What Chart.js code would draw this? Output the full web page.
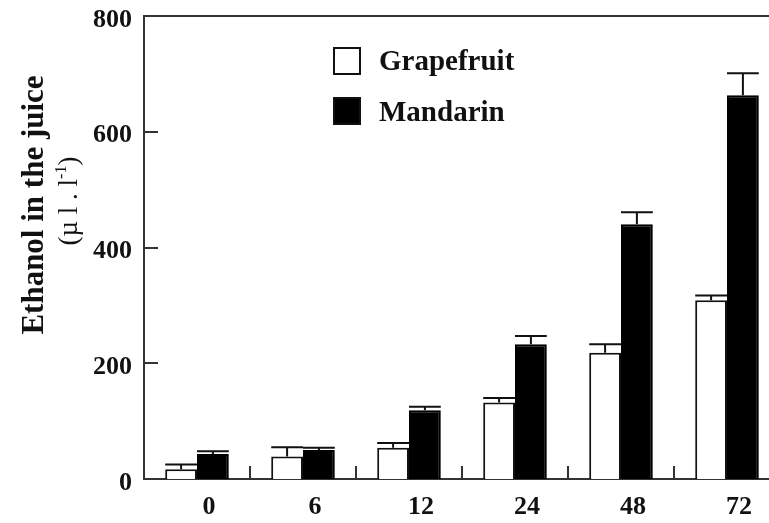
<!DOCTYPE html>
<html>
<head>
<meta charset="utf-8">
<title>Ethanol in the juice</title>
<script src="https://cdn.jsdelivr.net/npm/chart.js@4.4.1/dist/chart.umd.min.js"></script>
<style>
    html, body {
        margin: 0;
        padding: 0;
        background: #fff;
        overflow: hidden;
    }
    #wrap {
        width: 769px;
        height: 523px;
        overflow: hidden;
    }
</style>
</head>
<body>
<div id="wrap">
    <canvas id="ethanolChart" width="800" height="523"></canvas>
</div>
<script>
const hours = ['0', '6', '12', '24', '48', '72'];
const grapefruit = [17, 39, 54, 132, 218, 309];
const grapefruitErr = [8, 16, 8, 8, 15, 8];
const mandarin = [43, 50, 119, 233, 440, 663];
const mandarinErr = [5, 4, 6, 14, 21, 38];
const yTicks = [0, 200, 400, 600, 800];

const SERIF = '"Liberation Serif", "Times New Roman", serif';
const INK = '#111';
let ethanolChart = null;

// error bars: stem from bar top up to mean + err, cap as wide as the bar
const errorBarsPlugin = {
    id: 'errorBars',
    afterDatasetsDraw(chart) {
        const ctx = chart.ctx;
        const yScale = chart.scales.y;
        const errs = [grapefruitErr, mandarinErr];
        ctx.save();
        ctx.strokeStyle = INK;
        ctx.lineWidth = 2;
        chart.data.datasets.forEach((ds, di) => {
            const meta = chart.getDatasetMeta(di);
            meta.data.forEach((bar, i) => {
                const yErr = yScale.getPixelForValue(ds.data[i] + errs[di][i]);
                const half = bar.width / 2;
                ctx.beginPath();
                ctx.moveTo(bar.x, bar.y);
                ctx.lineTo(bar.x, yErr);
                ctx.moveTo(bar.x - half, yErr);
                ctx.lineTo(bar.x + half, yErr);
                ctx.stroke();
            });
        });
        ctx.restore();
    }
};

// inward tick marks on both axes, legend and the two-line y title
const decorPlugin = {
    id: 'decor',
    afterDraw(chart) {
        const ctx = chart.ctx;
        const area = chart.chartArea;
        const x = chart.scales.x;
        const y = chart.scales.y;

        ctx.save();
        ctx.strokeStyle = '#333';
        ctx.lineWidth = 2;
        ctx.beginPath();
        yTicks.slice(1, -1).forEach(v => {
            const py = Math.round(y.getPixelForValue(v));
            ctx.moveTo(area.left, py);
            ctx.lineTo(area.left + 14, py);
        });
        for (let i = 1; i < hours.length; i++) {
            const px = Math.round((x.getPixelForValue(i - 1) + x.getPixelForValue(i)) / 2);
            ctx.moveTo(px, area.bottom);
            ctx.lineTo(px, area.bottom - 13);
        }
        ctx.stroke();

        // legend
        const boxX = 333;
        const rows = [{ top: 47, base: 70 }, { top: 97, base: 121 }];
        chart.data.datasets.forEach((ds, di) => {
            const r = rows[di];
            ctx.fillStyle = ds.backgroundColor;
            ctx.fillRect(boxX, r.top, 28, 28);
            ctx.strokeStyle = INK;
            ctx.lineWidth = 2;
            ctx.strokeRect(boxX + 1, r.top + 1, 26, 26);
            ctx.fillStyle = INK;
            ctx.font = `bold 29px ${SERIF}`;
            ctx.textAlign = 'left';
            ctx.textBaseline = 'alphabetic';
            ctx.fillText(ds.label, 379, r.base);
        });

        // y axis title
        ctx.fillStyle = INK;
        ctx.textBaseline = 'alphabetic';
        ctx.save();
        ctx.translate(43, 205);
        ctx.rotate(-Math.PI / 2);
        ctx.textAlign = 'center';
        ctx.font = `bold 31px ${SERIF}`;
        ctx.fillText('Ethanol in the juice', 0, 0);
        ctx.restore();

        ctx.save();
        ctx.translate(77, 201);
        ctx.rotate(-Math.PI / 2);
        const parts = [
            { t: '(\u00b5 l . l', size: 27, rise: 0 },
            { t: '-1', size: 16, rise: 11 },
            { t: ')', size: 27, rise: 0 }
        ];
        let total = 0;
        parts.forEach(p => {
            ctx.font = `${p.size}px ${SERIF}`;
            p.w = ctx.measureText(p.t).width;
            total += p.w;
        });
        let cx = -total / 2;
        ctx.textAlign = 'left';
        parts.forEach(p => {
            ctx.font = `${p.size}px ${SERIF}`;
            ctx.fillText(p.t, cx, -p.rise);
            cx += p.w;
        });
        ctx.restore();

        ctx.restore();
    }
};

document.addEventListener('DOMContentLoaded', () => {
    renderChart();
});

function renderChart() {
    const ctx = document.getElementById('ethanolChart').getContext('2d');
    ethanolChart = new Chart(ctx, {
        type: 'bar',
        data: {
            labels: hours,
            datasets: [
                {
                    label: 'Grapefruit',
                    data: grapefruit,
                    backgroundColor: '#ffffff',
                    borderColor: INK,
                    borderWidth: 2,
                    categoryPercentage: 0.6,
                    barPercentage: 1.0
                },
                {
                    label: 'Mandarin',
                    data: mandarin,
                    backgroundColor: '#000000',
                    borderColor: '#000000',
                    borderWidth: 2,
                    categoryPercentage: 0.6,
                    barPercentage: 1.0
                }
            ]
        },
        options: {
            responsive: false,
            animation: false,
            layout: {
                autoPadding: false,
                padding: { left: 0, right: 20, top: 0, bottom: 0 }
            },
            plugins: {
                legend: { display: false },
                title: { display: false },
                tooltip: { enabled: false }
            },
            scales: {
                x: {
                    type: 'category',
                    position: 'bottom',
                    afterFit: scale => {
                        scale.height = 44;
                        scale.paddingLeft = 0;
                        scale.paddingRight = 0;
                    },
                    grid: { display: false, drawTicks: false },
                    border: { display: true, color: '#333', width: 2 },
                    ticks: {
                        color: INK,
                        padding: 13,
                        labelOffset: 12,
                        maxRotation: 0,
                        font: { family: SERIF, size: 26, weight: 'bold' }
                    }
                },
                xTop: {
                    type: 'category',
                    position: 'top',
                    labels: hours,
                    afterFit: scale => {
                        scale.height = 16;
                        scale.paddingLeft = 0;
                        scale.paddingRight = 0;
                    },
                    grid: { display: false, drawTicks: false },
                    border: { display: true, color: '#333', width: 2 },
                    ticks: { display: false }
                },
                y: {
                    min: 0,
                    max: 800,
                    afterFit: scale => {
                        scale.width = 144;
                        scale.paddingTop = 0;
                        scale.paddingBottom = 0;
                    },
                    afterBuildTicks: scale => {
                        scale.ticks = yTicks.map(v => ({ value: v }));
                    },
                    grid: { display: false, drawTicks: false },
                    border: { display: true, color: '#333', width: 2 },
                    ticks: {
                        color: INK,
                        padding: 12,
                        labelOffset: 4,
                        font: { family: SERIF, size: 26, weight: 'bold' }
                    }
                }
            }
        },
        plugins: [errorBarsPlugin, decorPlugin]
    });
}
</script>
</body>
</html>
